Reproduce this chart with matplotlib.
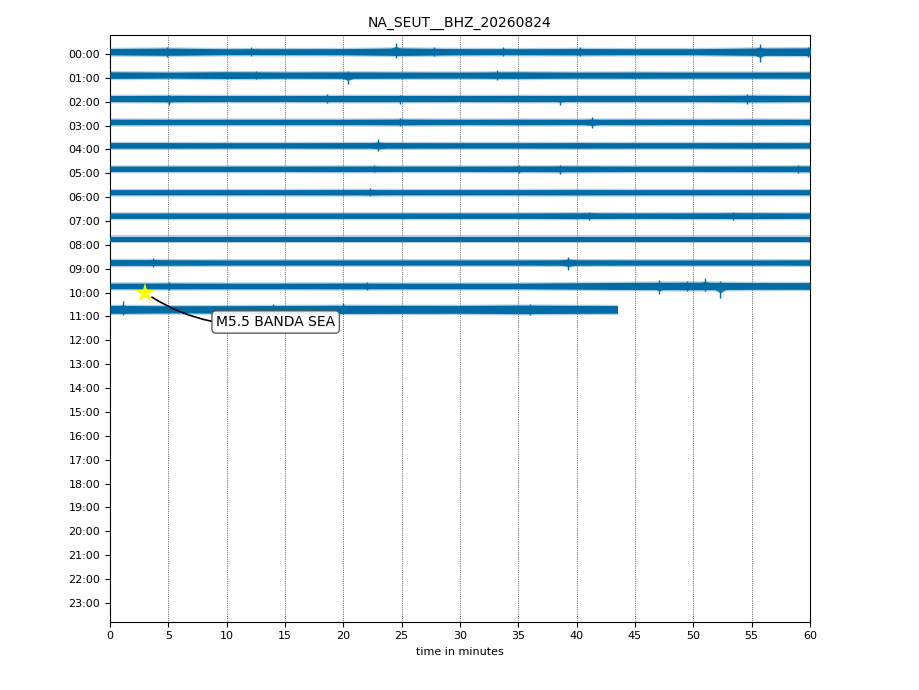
import numpy as np
import matplotlib
matplotlib.use("Agg")
import matplotlib.pyplot as plt

# ---------------- data ----------------
title = "NA_SEUT__BHZ_20260824"
hour_labels = ["%02d:00" % h for h in range(24)]
x_ticks = [0, 5, 10, 15, 20, 25, 30, 35, 40, 45, 50, 55, 60]

# envelope knots (minutes) and half-width envelope (pixels) of each hourly trace
knot_minutes = [0, 5, 10, 15, 20, 25, 30, 35, 40, 45, 50, 55, 60]
knot_minutes_last = [0, 5, 10, 15, 20, 25, 30, 35, 40, 43.5]
env_00 = [3.2, 3.6, 3.0, 3.0, 3.1, 3.7, 3.1, 3.0, 3.2, 3.0, 3.0, 3.6, 3.8]
env_01 = [3.3, 3.0, 3.4, 3.1, 3.2, 3.1, 3.0, 3.3, 3.0, 3.1, 3.0, 3.0, 3.1]
env_02 = [3.0, 3.2, 3.0, 3.0, 3.1, 3.1, 3.0, 3.1, 3.0, 3.0, 3.0, 3.3, 3.0]
env_03 = [2.8, 2.7, 2.7, 2.7, 2.7, 2.9, 2.7, 2.8, 2.7, 2.8, 2.7, 2.8, 2.7]
env_04 = [2.8, 2.8, 2.7, 2.7, 2.8, 2.8, 2.7, 2.7, 2.8, 2.7, 2.7, 2.8, 2.7]
env_05 = [2.7, 2.7, 2.7, 2.7, 2.8, 2.7, 2.7, 2.8, 2.9, 2.7, 2.7, 2.8, 2.9]
env_06 = [2.6, 2.6, 2.6, 2.6, 2.7, 2.6, 2.6, 2.6, 2.7, 2.6, 2.6, 2.6, 2.6]
env_07 = [2.7, 2.7, 2.7, 2.7, 2.7, 2.7, 2.7, 2.7, 2.9, 2.7, 2.8, 2.9, 2.7]
env_08 = [2.5, 2.5, 2.5, 2.5, 2.5, 2.5, 2.5, 2.5, 2.5, 2.5, 2.5, 2.5, 2.5]
env_09 = [3.0, 2.8, 2.6, 2.6, 2.6, 2.6, 2.6, 2.6, 2.8, 2.6, 2.6, 2.6, 2.7]
env_10 = [2.8, 2.9, 2.8, 2.8, 2.9, 2.8, 2.8, 2.8, 3.2, 3.6, 3.8, 3.4, 3.3]
env_11 = [4.0, 3.6, 3.7, 3.9, 4.1, 4.0, 3.9, 4.3, 4.0, 3.8]

# notable bursts: hour, minute, up (px), down (px)
burst_hour = [0, 0, 0, 0, 0, 0, 0, 0,
              1, 1, 1,
              2, 2, 2, 2, 2,
              3, 3,
              4,
              5, 5, 5, 5,
              6,
              7, 7,
              9, 9,
              10, 10, 10, 10, 10, 10,
              11, 11, 11, 11]
burst_minute = [4.9, 12.1, 24.5, 27.8, 33.7, 40.3, 55.7, 59.8,
                12.5, 20.4, 33.2,
                5.1, 18.6, 24.9, 38.6, 54.6,
                24.9, 41.3,
                23.0,
                22.6, 35.1, 38.6, 59.0,
                22.3,
                41.1, 53.4,
                3.7, 39.3,
                5.1, 22.0, 47.1, 49.5, 51.0, 52.3,
                1.1, 14.0, 20.0, 36.0]
burst_up = [5, 5, 9, 4.5, 5, 5, 8, 5,
            4.5, 4, 5,
            4, 5, 4, 3, 5,
            4, 5,
            6,
            4, 4, 4, 4,
            4,
            4, 4,
            5, 6,
            4, 4, 6, 5, 8, 5,
            8, 5, 6, 5]
burst_down = [5, 4, 6, 4, 4, 4, 10, 5,
              4, 9, 5,
              6, 4, 5, 6, 5,
              4, 6,
              6,
              3, 4, 5, 4,
              4,
              4, 4,
              4, 7,
              4, 4, 8, 5, 5, 12,
              6, 5, 5, 6]

event_minute = 3.0
event_hour = 10
event_text = "M5.5 BANDA SEA"

# ---------------- drawing ----------------
color = "#006BA4"
px_per_unit = 23.86          # pixels per hour row (tick spacing)
trace_step = 0.9816          # trace spacing relative to tick spacing
trace_shift = 0.096

fig = plt.figure(figsize=(9.2, 6.9), dpi=100)
ax = fig.add_axes([110 / 920, 1 - 621.7 / 690, 700 / 920, (621.7 - 35) / 690])

envs = [env_00, env_01, env_02, env_03, env_04, env_05,
        env_06, env_07, env_08, env_09, env_10, env_11]


def center(i):
    return trace_shift - trace_step * i


for i, env in enumerate(envs):
    xs = knot_minutes_last if i == len(envs) - 1 else knot_minutes
    xs = np.asarray(xs, float)
    half = np.asarray(env, float) / px_per_unit
    c = center(i)
    fuzz = 1.3 / px_per_unit
    ax.fill_between(xs, c - half - fuzz, c + half + fuzz, color=color,
                    alpha=0.3, lw=0, zorder=2)
    ax.fill_between(xs, c - half, c + half, color=color, lw=0, zorder=3)

for h, m, up, dn in zip(burst_hour, burst_minute, burst_up, burst_down):
    c = center(h)
    ax.vlines(m, c - dn / px_per_unit, c + up / px_per_unit,
              color=color, lw=1.0, zorder=3)
    w = 0.6
    ax.fill_between([m - w, m, m + w],
                    [c - 2.6 / px_per_unit, c - 0.6 * dn / px_per_unit, c - 2.6 / px_per_unit],
                    [c + 2.6 / px_per_unit, c + 0.6 * up / px_per_unit, c + 2.6 / px_per_unit],
                    color=color, lw=0, alpha=0.8, zorder=3)

# event marker and annotation
ax.plot([event_minute], [-event_hour], marker="*", color="yellow",
        markersize=15, markeredgewidth=0, zorder=5, linestyle="none")
ax.annotate(event_text, xy=(event_minute, -event_hour),
            xytext=(14.2, -11.23), textcoords="data",
            ha="center", va="center", fontsize=10, zorder=6,
            bbox=dict(boxstyle="round", fc="w", ec="0.3", alpha=0.9),
            arrowprops=dict(arrowstyle="-", connectionstyle="arc3,rad=-0.2",
                            color="k", lw=1.2, shrinkA=0, shrinkB=6))

ax.set_xlim(0, 60)
ax.set_ylim(-23.79, 0.796)
ax.set_xticks(x_ticks)
ax.set_xticklabels([str(t) for t in x_ticks], fontsize=8)
ax.set_yticks([-k for k in range(24)])
ax.set_yticklabels(hour_labels, fontsize=8)
ax.set_axisbelow(True)
ax.grid(axis="x", color="k", linestyle=":", linewidth=0.5)
ax.set_xlabel("time in minutes", fontsize=8)
ax.set_title(title, fontsize=10)

fig.savefig("out.png", dpi=100)
